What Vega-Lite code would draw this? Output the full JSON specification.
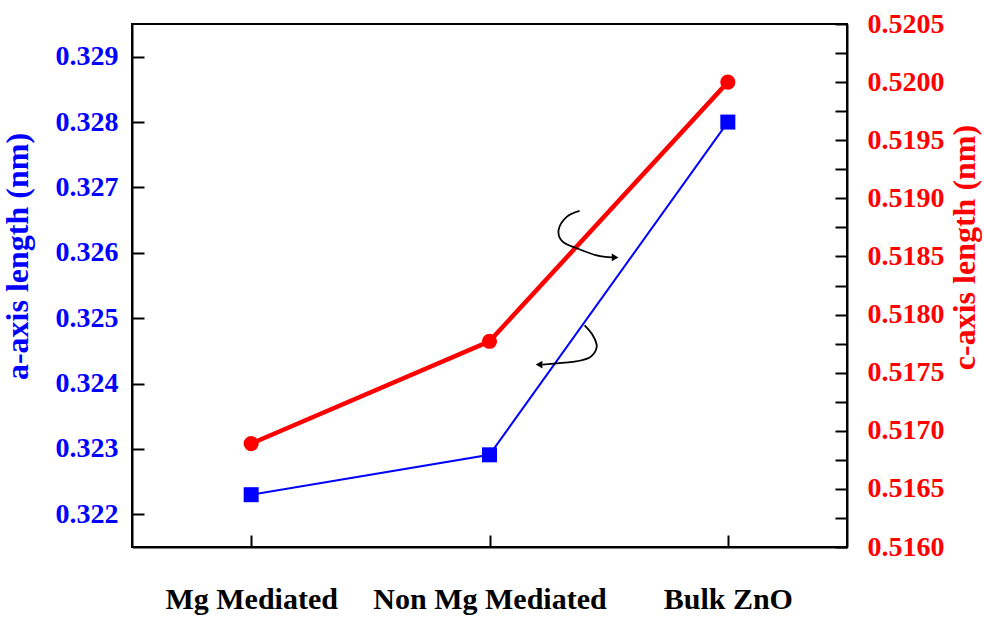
{
  "$schema": "https://vega.github.io/schema/vega-lite/v6.json",
  "width": 715,
  "height": 523,
  "autosize": {"type": "none"},
  "padding": {"left": 132, "top": 24, "right": 137, "bottom": 71},
  "background": "white",
  "config": {
    "view": {"stroke": "#000", "strokeWidth": 2},
    "axis": {
      "labelFont": "Liberation Serif",
      "labelFontWeight": "bold",
      "titleFont": "Liberation Serif",
      "titleFontWeight": "bold",
      "domainColor": "#000",
      "domainWidth": 2,
      "tickColor": "#000",
      "tickWidth": 2,
      "ticks": true,
      "grid": false,
      "labelFlush": false,
      "labelOverlap": false,
      "labelLimit": 0
    }
  },
  "datasets": {
    "lattice": [
      {"sample": "Mg Mediated", "pos": 0, "a": 0.3223, "c": 0.51689},
      {"sample": "Non Mg Mediated", "pos": 1, "a": 0.32291, "c": 0.51777},
      {"sample": "Bulk ZnO", "pos": 2, "a": 0.3280, "c": 0.5200}
    ],
    "arrows": [
      {"curve": "upper", "step": 1, "pos": 1.378, "a": 0.32664},
      {"curve": "upper", "step": 2, "pos": 1.324, "a": 0.32655},
      {"curve": "upper", "step": 3, "pos": 1.290, "a": 0.32635},
      {"curve": "upper", "step": 4, "pos": 1.307, "a": 0.32617},
      {"curve": "upper", "step": 5, "pos": 1.366, "a": 0.32607},
      {"curve": "upper", "step": 6, "pos": 1.450, "a": 0.32596},
      {"curve": "upper", "step": 7, "pos": 1.515, "a": 0.32593},
      {"curve": "lower", "step": 1, "pos": 1.399, "a": 0.32489},
      {"curve": "lower", "step": 2, "pos": 1.433, "a": 0.32474},
      {"curve": "lower", "step": 3, "pos": 1.450, "a": 0.32456},
      {"curve": "lower", "step": 4, "pos": 1.420, "a": 0.32440},
      {"curve": "lower", "step": 5, "pos": 1.349, "a": 0.32433},
      {"curve": "lower", "step": 6, "pos": 1.282, "a": 0.32431},
      {"curve": "lower", "step": 7, "pos": 1.222, "a": 0.32429}
    ],
    "arrowheads": [
      {"curve": "upper", "pos": 1.527, "a": 0.32593},
      {"curve": "lower", "pos": 1.208, "a": 0.32429}
    ]
  },
  "layer": [
    {
      "data": {"name": "lattice"},
      "encoding": {
        "x": {"field": "pos", "type": "quantitative"},
        "y": {
          "field": "c",
          "type": "quantitative",
          "scale": {"domain": [0.516, 0.5205], "zero": false, "nice": false},
          "axis": {
            "orient": "right",
            "title": "c-axis length (nm)",
            "titleAngle": 270,
            "titleBaseline": "top",
            "titleY": 223,
            "titleColor": "#FF0000",
            "titleFontSize": 32,
            "titlePadding": 5,
            "labelColor": "#FF0000",
            "labelFontSize": 28,
            "labelPadding": 32,
            "tickSize": -12,
            "values": [0.516, 0.51625, 0.5165, 0.51675, 0.517, 0.51725, 0.5175, 0.51775, 0.518, 0.51825, 0.5185, 0.51875, 0.519, 0.51925, 0.5195, 0.51975, 0.52, 0.52025, 0.5205],
            "labelExpr": "abs(datum.value*2000 - round(datum.value*2000)) < 0.01 ? format(datum.value, '.4f') : ''",
            "encode": {
              "ticks": {
                "update": {
                  "x2": {"signal": "abs(datum.value*2000 - round(datum.value*2000)) < 0.01 ? -12 : -6"}
                }
              }
            }
          }
        }
      },
      "layer": [
        {"mark": {"type": "line", "color": "#FF0000", "strokeWidth": 4.5}},
        {"mark": {"type": "point", "shape": "circle", "filled": true, "opacity": 1, "color": "#FF0000", "size": 230}}
      ]
    },
    {
      "layer": [
        {
          "data": {"name": "lattice"},
          "encoding": {
            "x": {
              "field": "pos",
              "type": "quantitative",
              "scale": {"domain": [-0.5, 2.5], "nice": false, "zero": false},
              "axis": {
                "orient": "bottom",
                "title": null,
                "values": [0, 1, 2],
                "labelExpr": "['Mg Mediated', 'Non Mg Mediated', 'Bulk ZnO'][datum.value]",
                "labelColor": "#000",
                "labelFontSize": 30,
                "labelPadding": 49,
                "tickSize": -12
              }
            },
            "y": {
              "field": "a",
              "type": "quantitative",
              "scale": {"domain": [0.3215, 0.3295], "zero": false, "nice": false},
              "axis": {
                "orient": "left",
                "title": "a-axis length (nm)",
                "titleY": 232,
                "titleColor": "#0000FF",
                "titleFontSize": 32,
                "titlePadding": 21,
                "labelColor": "#0000FF",
                "labelFontSize": 28,
                "labelPadding": 26,
                "tickSize": -12,
                "values": [0.322, 0.3225, 0.323, 0.3235, 0.324, 0.3245, 0.325, 0.3255, 0.326, 0.3265, 0.327, 0.3275, 0.328, 0.3285, 0.329],
                "labelExpr": "abs(datum.value*1000 - round(datum.value*1000)) < 0.01 ? format(datum.value, '.3f') : ''",
                "encode": {
                  "ticks": {
                    "update": {
                      "x2": {"signal": "abs(datum.value*1000 - round(datum.value*1000)) < 0.01 ? 12 : 6"}
                    }
                  }
                }
              }
            }
          },
          "layer": [
            {"mark": {"type": "line", "color": "#0000FF", "strokeWidth": 2}},
            {"mark": {"type": "point", "shape": "square", "filled": true, "opacity": 1, "color": "#0000FF", "size": 225}}
          ]
        },
        {
          "data": {"name": "arrows"},
          "mark": {"type": "line", "color": "#000", "strokeWidth": 1.8, "interpolate": "cardinal"},
          "encoding": {
            "x": {"field": "pos", "type": "quantitative"},
            "y": {"field": "a", "type": "quantitative"},
            "detail": {"field": "curve"},
            "order": {"field": "step"}
          }
        },
        {
          "data": {"name": "arrowheads"},
          "transform": [{"filter": "datum.curve === 'upper'"}],
          "mark": {"type": "point", "shape": "triangle-right", "filled": true, "opacity": 1, "color": "#000", "size": 60},
          "encoding": {
            "x": {"field": "pos", "type": "quantitative"},
            "y": {"field": "a", "type": "quantitative"}
          }
        },
        {
          "data": {"name": "arrowheads"},
          "transform": [{"filter": "datum.curve === 'lower'"}],
          "mark": {"type": "point", "shape": "triangle-left", "filled": true, "opacity": 1, "color": "#000", "size": 60},
          "encoding": {
            "x": {"field": "pos", "type": "quantitative"},
            "y": {"field": "a", "type": "quantitative"}
          }
        }
      ]
    }
  ],
  "resolve": {"scale": {"y": "independent"}}
}
